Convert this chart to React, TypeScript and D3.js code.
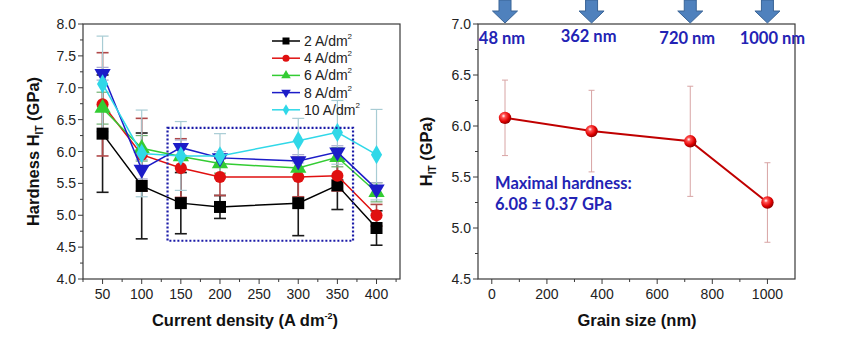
import React from "react";
import * as d3 from "d3";

// left panel: hardness vs current density
const densities = [50, 100, 150, 200, 300, 350, 400];
const seriesNames = ["2", "4", "6", "8", "10"];
const hard2 = [6.28, 5.46, 5.19, 5.13, 5.19, 5.47, 4.8];
const hard4 = [6.74, 5.95, 5.74, 5.6, 5.6, 5.62, 5.0];
const hard6 = [6.68, 6.05, 5.92, 5.81, 5.74, 5.91, 5.36];
const hard8 = [7.22, 5.72, 6.06, 5.9, 5.85, 5.99, 5.41];
const hard10 = [7.06, 5.97, 5.93, 5.93, 6.17, 6.3, 5.95];
const err2 = [0.92, 0.83, 0.48, 0.18, 0.51, 0.38, 0.27];
const err4 = [0.81, 0.57, 0.46, 0.29, 0.31, 0.24, 0.17];
const err6 = [0.25, 0.2, 0.18, 0.15, 0.15, 0.15, 0.15];
const err8 = [0.1, 0.15, 0.12, 0.1, 0.1, 0.1, 0.1];
const err10 = [0.75, 0.68, 0.54, 0.35, 0.35, 0.5, 0.71];
const leftYTicks = [4.0, 4.5, 5.0, 5.5, 6.0, 6.5, 7.0, 7.5, 8.0];
const leftXTicks = [50, 100, 150, 200, 250, 300, 350, 400];
const boxX = [133, 370];
const boxY = [4.6, 6.37];

// right panel: hardness vs grain size
const grainSize = [48, 362, 720, 1000];
const grainHard = [6.08, 5.95, 5.85, 5.25];
const grainErr = [0.37, 0.4, 0.54, 0.39];
const rightYTicks = [4.5, 5.0, 5.5, 6.0, 6.5, 7.0];
const rightXTicks = [0, 200, 400, 600, 800, 1000];

const styles = [
  { color: "#000000", err: "#1a1a1a", shape: "square" },
  { color: "#e01010", err: "#b04848", shape: "circle" },
  { color: "#33cc33", err: "#70b070", shape: "triangle" },
  { color: "#1c1cc8", err: "#a8a8d0", shape: "triangleDown" },
  { color: "#30d8e8", err: "#a8ccd4", shape: "diamond" },
];
const values = [hard2, hard4, hard6, hard8, hard10];
const errors = [err2, err4, err6, err8, err10];

const font = "'Liberation Sans', Arial, sans-serif";
const calibri = "Lato, 'Open Sans', sans-serif";

const xL = d3.scaleLinear().domain([25, 430]).range([83, 400]);
const yL = d3.scaleLinear().domain([4, 8]).range([279, 24]);
const xR = d3.scaleLinear().domain([-50, 1100]).range([478, 795]);
const yR = d3.scaleLinear().domain([4.5, 7]).range([279, 24]);

function Marker({ shape, x, y, s, color }: any) {
  const sym =
    shape === "square"
      ? d3.symbolSquare
      : shape === "circle"
      ? d3.symbolCircle
      : shape === "diamond"
      ? d3.symbolDiamond
      : d3.symbolTriangle;
  const size = shape === "diamond" ? s * s * 0.75 : shape === "square" ? s * s : s * s * 0.8;
  const rot = shape === "triangleDown" ? 180 : 0;
  return (
    <path
      d={d3.symbol().type(sym).size(size)() as string}
      transform={`translate(${x},${y}) rotate(${rot})`}
      fill={color}
    />
  );
}

function Frame({ x, y, xTicks, yTicks, xMinor, yMinor, xFmt, yFmt }: any) {
  const [x0, x1] = x.range();
  const [y0, y1] = y.range();
  return (
    <g fontFamily={font} fontSize={14} fill="#222">
      <rect x={x0} y={y1} width={x1 - x0} height={y0 - y1} fill="none" stroke="#3a3a3a" strokeWidth={1.2} />
      {yTicks.map((t: number) => (
        <g key={"y" + t}>
          <line x1={x0 - 5} x2={x0} y1={y(t)} y2={y(t)} stroke="#3a3a3a" />
          <text x={x0 - 7} y={y(t) + 5} textAnchor="end">
            {yFmt(t)}
          </text>
        </g>
      ))}
      {yMinor.map((t: number) => (
        <line key={"ym" + t} x1={x0 - 3} x2={x0} y1={y(t)} y2={y(t)} stroke="#3a3a3a" />
      ))}
      {xTicks.map((t: number) => (
        <g key={"x" + t}>
          <line x1={x(t)} x2={x(t)} y1={y0} y2={y0 + 5} stroke="#3a3a3a" />
          <text x={x(t)} y={y0 + 20} textAnchor="middle">
            {xFmt(t)}
          </text>
        </g>
      ))}
      {xMinor.map((t: number) => (
        <line key={"xm" + t} x1={x(t)} x2={x(t)} y1={y0} y2={y0 + 3} stroke="#3a3a3a" />
      ))}
    </g>
  );
}

export default function App() {
  const line = d3
    .line<number>()
    .x((_, i) => xL(densities[i]))
    .y((d) => yL(d));
  const grainLine = d3
    .line<number>()
    .x((_, i) => xR(grainSize[i]))
    .y((d) => yR(d));

  const leftYMinor = d3.range(4.25, 8, 0.5);
  const leftXMinor = d3.range(25, 431, 50);
  const rightYMinor = d3.range(4.75, 7, 0.5);
  const rightXMinor = d3.range(100, 1100, 200);

  const arrowTop = 0;
  const arrowMid = 11;
  const arrowTip = 23;

  return (
    <div style={{ position: "absolute", left: 0, top: 0 }}>
      <svg width={846} height={340} style={{ display: "block", background: "#fff" }}>
        <defs>
          <radialGradient id="ball" cx="38%" cy="35%" r="65%">
            <stop offset="0%" stopColor="#ffffff" />
            <stop offset="25%" stopColor="#ff5050" />
            <stop offset="70%" stopColor="#e00000" />
            <stop offset="100%" stopColor="#900000" />
          </radialGradient>
        </defs>

        {/* ---------- left panel ---------- */}
        <Frame
          x={xL}
          y={yL}
          xTicks={leftXTicks}
          yTicks={leftYTicks}
          xMinor={leftXMinor}
          yMinor={leftYMinor}
          xFmt={(t: number) => String(t)}
          yFmt={(t: number) => t.toFixed(1)}
        />

        {values.map((vals, s) => (
          <g key={"e" + s} stroke={styles[s].err} strokeWidth={s < 2 ? 1.6 : 1.2}>
            {vals.map((v, i) => {
              const e = errors[s][i];
              const cx = xL(densities[i]);
              return (
                <g key={i}>
                  <line x1={cx} x2={cx} y1={yL(v - e)} y2={yL(v + e)} />
                  <line x1={cx - 6} x2={cx + 6} y1={yL(v - e)} y2={yL(v - e)} />
                  <line x1={cx - 6} x2={cx + 6} y1={yL(v + e)} y2={yL(v + e)} />
                </g>
              );
            })}
          </g>
        ))}

        {values.map((vals, s) => (
          <g key={"l" + s}>
            <path d={line(vals) as string} fill="none" stroke={styles[s].color} strokeWidth={1.5} />
            {vals.map((v, i) => (
              <Marker key={i} shape={styles[s].shape} x={xL(densities[i])} y={yL(v)} s={12} color={styles[s].color} />
            ))}
          </g>
        ))}

        <rect
          x={xL(boxX[0])}
          y={yL(boxY[1])}
          width={xL(boxX[1]) - xL(boxX[0])}
          height={yL(boxY[0]) - yL(boxY[1])}
          fill="none"
          stroke="#1a1aa8"
          strokeWidth={2.2}
          strokeDasharray="2 2"
        />

        <g fontFamily={font} fontSize={14} fill="#222">
          {seriesNames.map((n, s) => {
            const ly = 41 + s * 17.2;
            return (
              <g key={n}>
                <line x1={272} x2={300} y1={ly} y2={ly} stroke={styles[s].color} strokeWidth={1.5} />
                <Marker shape={styles[s].shape} x={286} y={ly} s={7} color={styles[s].color} />
                <text x={304} y={ly + 5}>
                  {n} A/dm
                  <tspan fontSize={8} dy={-7}>
                    2
                  </tspan>
                </text>
              </g>
            );
          })}
        </g>

        <text
          transform={`translate(39,${(yL.range()[0] + yL.range()[1]) / 2}) rotate(-90)`}
          textAnchor="middle"
          fontFamily={font}
          fontSize={16.5}
          fontWeight="bold"
          fill="#111"
        >
          Hardness H
          <tspan fontSize={10} dy={4}>
            IT
          </tspan>
          <tspan dy={-4}> (GPa)</tspan>
        </text>
        <text x={245} y={326} textAnchor="middle" fontFamily={font} fontSize={16.5} fontWeight="bold" fill="#111">
          Current density (A dm
          <tspan fontSize={9} dy={-7}>
            -2
          </tspan>
          <tspan dy={7}>)</tspan>
        </text>

        {/* ---------- right panel ---------- */}
        <Frame
          x={xR}
          y={yR}
          xTicks={rightXTicks}
          yTicks={rightYTicks}
          xMinor={rightXMinor}
          yMinor={rightYMinor}
          xFmt={(t: number) => String(t)}
          yFmt={(t: number) => t.toFixed(1)}
        />

        <g stroke="#d8a4a4" strokeWidth={1}>
          {grainHard.map((v, i) => {
            const cx = xR(grainSize[i]);
            const e = grainErr[i];
            return (
              <g key={i}>
                <line x1={cx} x2={cx} y1={yR(v - e)} y2={yR(v + e)} />
                <line x1={cx - 3} x2={cx + 3} y1={yR(v - e)} y2={yR(v - e)} />
                <line x1={cx - 3} x2={cx + 3} y1={yR(v + e)} y2={yR(v + e)} />
              </g>
            );
          })}
        </g>
        <path d={grainLine(grainHard) as string} fill="none" stroke="#c00000" strokeWidth={2} />
        {grainHard.map((v, i) => (
          <circle key={i} cx={xR(grainSize[i])} cy={yR(v)} r={6.2} fill="url(#ball)" />
        ))}

        {grainSize.map((g, i) => {
          const cx = xR(g);
          return (
            <g key={"a" + g}>
              <path
                d={`M${cx - 6},${arrowTop} L${cx + 6},${arrowTop} L${cx + 6},${arrowMid} L${cx + 12.5},${arrowMid} L${cx},${arrowTip} L${cx - 12.5},${arrowMid} L${cx - 6},${arrowMid} Z`}
                fill="#4f81bd"
                stroke="#3a6496"
                strokeWidth={1}
              />
              <text
                x={cx + (i === 3 ? 5 : -3)}
                y={i === 1 ? 42 : 44}
                textAnchor="middle"
                fontFamily={calibri}
                fontSize={16.5}
                fontWeight="bold"
                fill="#2323b4"
              >
                {g} nm
              </text>
            </g>
          );
        })}

        <g fontFamily={calibri} fontSize={16.5} fontWeight="bold" fill="#2323b4">
          <text x={495} y={189}>
            Maximal hardness:
          </text>
          <text x={495} y={210}>
            {grainHard[0].toFixed(2)} ± {grainErr[0].toFixed(2)} GPa
          </text>
        </g>

        <text
          transform={`translate(432,${(yR.range()[0] + yR.range()[1]) / 2}) rotate(-90)`}
          textAnchor="middle"
          fontFamily={font}
          fontSize={16.5}
          fontWeight="bold"
          fill="#111"
        >
          H
          <tspan fontSize={10} dy={4}>
            IT
          </tspan>
          <tspan dy={-4}> (GPa)</tspan>
        </text>
        <text x={637} y={326} textAnchor="middle" fontFamily={font} fontSize={16.5} fontWeight="bold" fill="#111">
          Grain size (nm)
        </text>
      </svg>
    </div>
  );
}
